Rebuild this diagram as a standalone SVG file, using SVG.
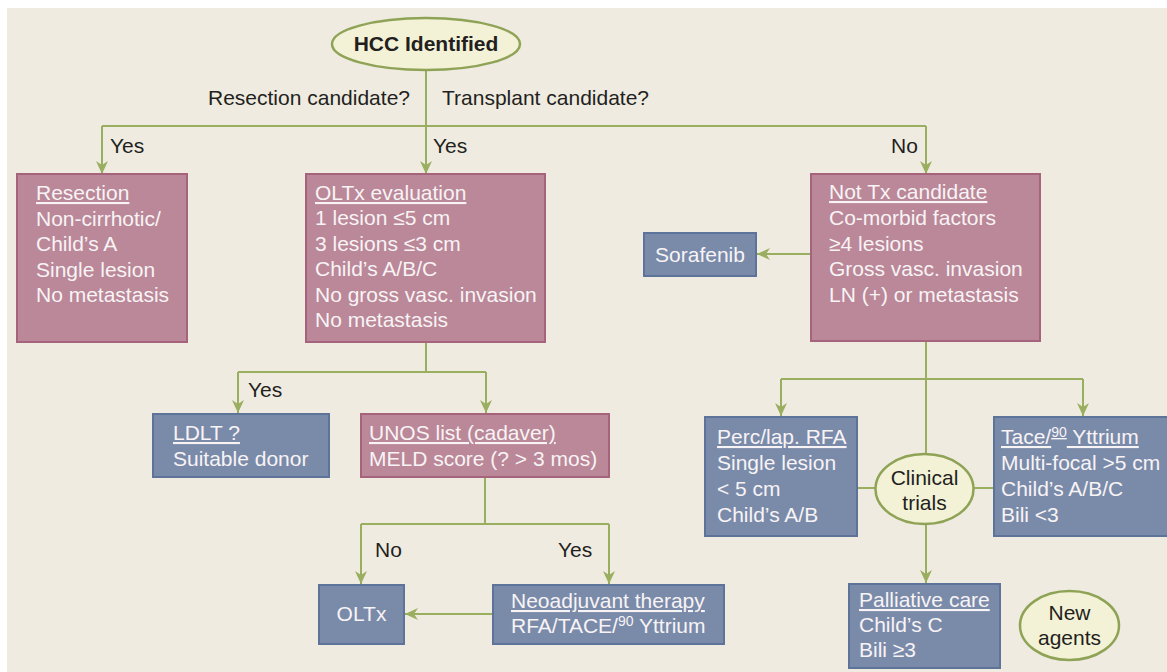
<svg xmlns="http://www.w3.org/2000/svg" width="1167" height="672" viewBox="0 0 1167 672">
<defs>
<style>
text{font-family:"Liberation Sans",Arial,sans-serif;font-size:21px}
.lbl{fill:#231F20}
.w{fill:#F8F3F5}
.u{text-decoration:underline}
.pink{fill:#BA8898;stroke:#A5647C;stroke-width:2}
.blue{fill:#7A8BAA;stroke:#5E739A;stroke-width:2}
.oval{fill:#F3F2D6;stroke:#8FA357;stroke-width:2.5}
.c{fill:none;stroke:#9AAE5F;stroke-width:2}
.a{marker-end:url(#arr)}
.sup{font-size:14px}
</style>
<marker id="arr" markerUnits="userSpaceOnUse" markerWidth="14" markerHeight="12" refX="13" refY="6" orient="auto">
<path d="M0,0 L13,6 L0,12 L4,6 Z" fill="#9AAE5F"/>
</marker>
</defs>
<rect x="0" y="0" width="1167" height="672" fill="#FFFFFF"/>
<rect x="7" y="8" width="1160" height="664" fill="#EFEBE0"/>

<g id="connectors">
<path class="c a" d="M426,70 V174"/>
<path class="c" d="M102,126 H926"/>
<path class="c a" d="M102,126 V174"/>
<path class="c a" d="M926,126 V174"/>
<path class="c a" d="M811,254 H757"/>
<path class="c" d="M426,342 V372 M238,372 H486"/>
<path class="c a" d="M238,372 V413"/>
<path class="c a" d="M486,372 V413"/>
<path class="c" d="M485,477 V524 M361,524 H609"/>
<path class="c a" d="M361,524 V584"/>
<path class="c a" d="M609,524 V584"/>
<path class="c a" d="M493,614 H405"/>
<path class="c" d="M926,341 V454 M781,379 H1083"/>
<path class="c a" d="M781,379 V416"/>
<path class="c a" d="M1083,379 V416"/>
<path class="c a" d="M926,524 V583"/>
<path class="c" d="M857,488 H876 M973,488 H994"/>
</g>

<g id="labels">
<text class="lbl" x="410" y="105" text-anchor="end">Resection candidate?</text>
<text class="lbl" x="442" y="105">Transplant candidate?</text>
<text class="lbl" x="110" y="153">Yes</text>
<text class="lbl" x="433" y="153">Yes</text>
<text class="lbl" x="891" y="153">No</text>
<text class="lbl" x="248" y="397">Yes</text>
<text class="lbl" x="375" y="557">No</text>
<text class="lbl" x="558" y="557">Yes</text>
</g>

<g id="hcc">
<ellipse class="oval" cx="426" cy="44" rx="94" ry="26"/>
<text class="lbl" x="426" y="51" text-anchor="middle" font-weight="bold">HCC Identified</text>
</g>

<g id="resection">
<rect class="pink" x="17" y="174" width="170" height="168"/>
<text class="w" x="36" y="200"><tspan class="u">Resection</tspan><tspan x="36" y="226">Non-cirrhotic/</tspan><tspan x="36" y="251">Child’s A</tspan><tspan x="36" y="277">Single lesion</tspan><tspan x="36" y="302">No metastasis</tspan></text>
</g>

<g id="oltx-eval">
<rect class="pink" x="306" y="174" width="239" height="168"/>
<text class="w" x="315" y="200"><tspan class="u">OLTx evaluation</tspan><tspan x="315" y="225">1 lesion ≤5 cm</tspan><tspan x="315" y="251">3 lesions ≤3 cm</tspan><tspan x="315" y="276">Child’s A/B/C</tspan><tspan x="315" y="302">No gross vasc. invasion</tspan><tspan x="315" y="327">No metastasis</tspan></text>
</g>

<g id="not-tx">
<rect class="pink" x="811" y="174" width="229" height="167"/>
<text class="w" x="829" y="199"><tspan class="u">Not Tx candidate</tspan><tspan x="829" y="225">Co-morbid factors</tspan><tspan x="829" y="251">≥4 lesions</tspan><tspan x="829" y="276">Gross vasc. invasion</tspan><tspan x="829" y="302">LN (+) or metastasis</tspan></text>
</g>

<g id="sorafenib">
<rect class="blue" x="644" y="233" width="112" height="43"/>
<text class="w" x="700" y="262" text-anchor="middle">Sorafenib</text>
</g>

<g id="ldlt">
<rect class="blue" x="153" y="414" width="176" height="63"/>
<text class="w" x="173" y="440"><tspan class="u">LDLT ?</tspan><tspan x="173" y="466">Suitable donor</tspan></text>
</g>

<g id="unos">
<rect class="pink" x="361" y="414" width="248" height="63"/>
<text class="w" x="369" y="440"><tspan class="u">UNOS list (cadaver)</tspan><tspan x="369" y="466">MELD score (? &gt; 3 mos)</tspan></text>
</g>

<g id="perc-rfa">
<rect class="blue" x="705" y="417" width="152" height="119"/>
<text class="w" x="717" y="444"><tspan class="u">Perc/lap. RFA</tspan><tspan x="717" y="470">Single lesion</tspan><tspan x="717" y="496">&lt; 5 cm</tspan><tspan x="717" y="522">Child’s A/B</tspan></text>
</g>

<g id="tace">
<rect class="blue" x="994" y="417" width="178" height="119"/>
<text class="w u" x="1001" y="444">Tace/<tspan class="sup" dy="-7">90</tspan><tspan dy="7"> Yttrium</tspan></text>
<text class="w" x="1001" y="470">Multi-focal &gt;5 cm<tspan x="1001" y="496">Child’s A/B/C</tspan><tspan x="1001" y="522">Bili &lt;3</tspan></text>
</g>

<g id="clinical-trials">
<ellipse class="oval" cx="924.5" cy="489" rx="49" ry="35"/>
<text class="lbl" x="924.5" y="485" text-anchor="middle">Clinical<tspan x="924.5" y="510">trials</tspan></text>
</g>

<g id="oltx">
<rect class="blue" x="319" y="585" width="85" height="59"/>
<text class="w" x="361.5" y="621" text-anchor="middle">OLTx</text>
</g>

<g id="neoadjuvant">
<rect class="blue" x="493" y="585" width="231" height="59"/>
<text class="w u" x="511" y="608">Neoadjuvant therapy</text>
<text class="w" x="511" y="633">RFA/TACE/<tspan class="sup" dy="-7">90</tspan><tspan dy="7"> Yttrium</tspan></text>
</g>

<g id="palliative">
<rect class="blue" x="849" y="584" width="151" height="84"/>
<text class="w" x="859" y="607"><tspan class="u">Palliative care</tspan><tspan x="859" y="632">Child’s C</tspan><tspan x="859" y="657">Bili ≥3</tspan></text>
</g>

<g id="new-agents">
<ellipse class="oval" cx="1069.5" cy="625.5" rx="49.5" ry="34.5"/>
<text class="lbl" x="1069.5" y="620" text-anchor="middle">New<tspan x="1069.5" y="645">agents</tspan></text>
</g>
</svg>
